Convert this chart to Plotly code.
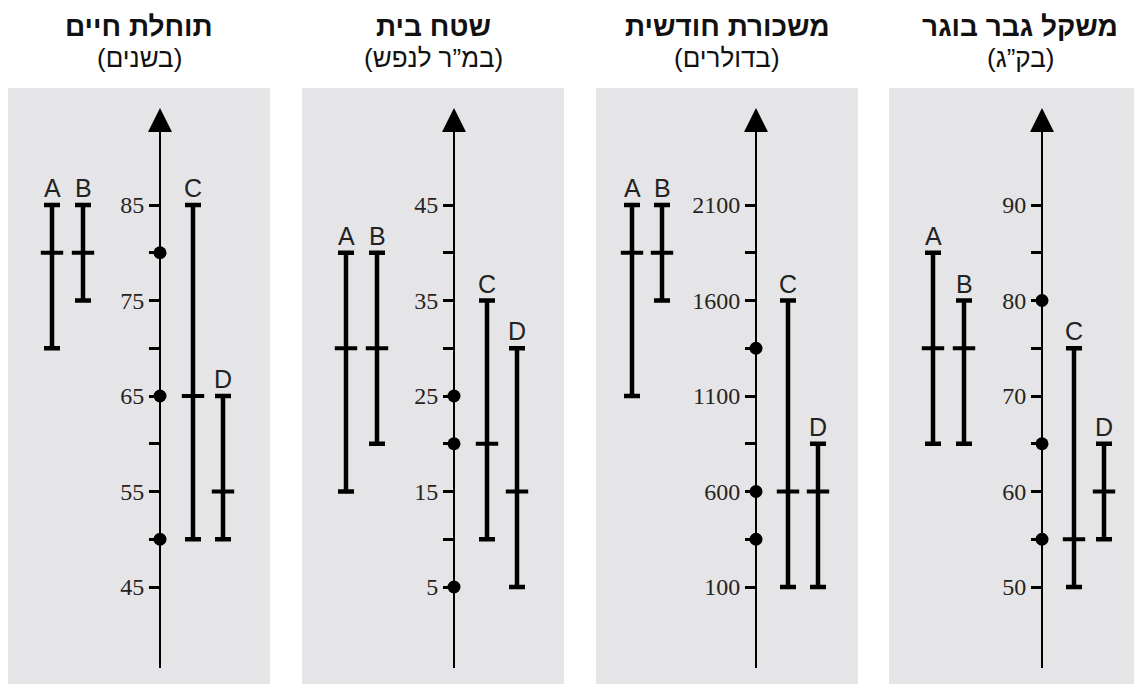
import plotly.graph_objects as go

# ---------------- data ----------------
GROUPS = ["A", "B", "C", "D"]
TITLES = ["תוחלת חיים", "שטח בית", "משכורת חודשית", "משקל גבר בוגר"]
SUBTITLES = ["(בשנים)", "(במ”ר לנפש)", "(בדולרים)", "(בק”ג)"]

LIFE_LOW = [70, 75, 50, 50]
LIFE_MID = [80, 80, 65, 55]
LIFE_HIGH = [85, 85, 85, 65]
LIFE_DOTS = [80, 65, 50]
LIFE_TICKS = [45, 55, 65, 75, 85]

HOUSE_LOW = [15, 20, 10, 5]
HOUSE_MID = [30, 30, 20, 15]
HOUSE_HIGH = [40, 40, 35, 30]
HOUSE_DOTS = [25, 20, 5]
HOUSE_TICKS = [5, 15, 25, 35, 45]

SALARY_LOW = [1100, 1600, 100, 100]
SALARY_MID = [1850, 1850, 600, 600]
SALARY_HIGH = [2100, 2100, 1600, 850]
SALARY_DOTS = [1350, 600, 350]
SALARY_TICKS = [100, 600, 1100, 1600, 2100]

WEIGHT_LOW = [65, 65, 50, 55]
WEIGHT_MID = [75, 75, 55, 60]
WEIGHT_HIGH = [85, 80, 75, 65]
WEIGHT_DOTS = [80, 65, 55]
WEIGHT_TICKS = [50, 60, 70, 80, 90]

PANELS = [
    (LIFE_LOW, LIFE_MID, LIFE_HIGH, LIFE_DOTS, LIFE_TICKS),
    (HOUSE_LOW, HOUSE_MID, HOUSE_HIGH, HOUSE_DOTS, HOUSE_TICKS),
    (SALARY_LOW, SALARY_MID, SALARY_HIGH, SALARY_DOTS, SALARY_TICKS),
    (WEIGHT_LOW, WEIGHT_MID, WEIGHT_HIGH, WEIGHT_DOTS, WEIGHT_TICKS),
]

# ---------------- layout constants (pixels, figure coordinates) ----------------
W, H = 1134, 676
PANEL_LEFT = [0, 294, 588, 881]
PANEL_W = 262
PANEL_TOP = 80
AXIS_PX = [152, 446, 748, 1034]
BAR_OFFSETS = [[-108, -77, 33, 63], [-108, -77, 33, 63],
               [-124, -94, 32, 62], [-109, -78, 32, 62]]
TOP_TICK_PX = 197
PX_PER_STEP = 95.5
ARROW_TIP_PX = 100
ARROW_BASE_PX = 116
AXIS_BOTTOM_PX = 660
TITLE_Y_PX = 19
SUB_Y_PX = 50

fig = go.Figure()
annotations = []
layout_axes = {}

for i, (low, mid, high, dots, ticks) in enumerate(PANELS):
    n = "" if i == 0 else str(i + 1)
    xr, yr = "x" + n, "y" + n
    step = ticks[1] - ticks[0]
    top = ticks[-1]

    def val(p, top=top, step=step):
        return top + (TOP_TICK_PX - p) * step / PX_PER_STEP

    left = PANEL_LEFT[i]
    right = min(left + PANEL_W, W)
    ax_px = AXIS_PX[i]
    offs = BAR_OFFSETS[i]

    tickvals = []
    ticktext = []
    for k, t in enumerate(ticks):
        tickvals.append(t)
        ticktext.append(str(t))
        if k < len(ticks) - 1:
            tickvals.append(t + step / 2)
            ticktext.append("")

    layout_axes["xaxis" + n] = dict(
        domain=[left / W, right / W], range=[left - ax_px, right - ax_px],
        visible=False, fixedrange=True)
    layout_axes["yaxis" + n] = dict(
        domain=[0, (H - PANEL_TOP) / H], range=[val(H), val(PANEL_TOP)],
        anchor="free", position=ax_px / W, side="left",
        showgrid=False, zeroline=False, showline=False,
        ticks="outside", ticklen=11, tickwidth=2.5, tickcolor="black",
        tickvals=tickvals, ticktext=ticktext,
        tickfont=dict(family="Liberation Serif", size=24, color="#262322"),
        fixedrange=True)

    # axis line
    fig.add_trace(go.Scatter(
        x=[0, 0], y=[val(AXIS_BOTTOM_PX), val(ARROW_BASE_PX)],
        xaxis=xr, yaxis=yr, mode="lines",
        line=dict(color="black", width=2), showlegend=False, hoverinfo="skip"))
    # arrow head
    fig.add_trace(go.Scatter(
        x=[0], y=[val(ARROW_TIP_PX)], xaxis=xr, yaxis=yr, mode="markers",
        marker=dict(symbol="arrow-up", size=24, color="black"),
        showlegend=False, hoverinfo="skip"))

    # range bars
    fig.add_trace(go.Scatter(
        x=offs, y=mid, xaxis=xr, yaxis=yr, mode="markers",
        marker=dict(symbol="line-ew", size=16, color="black",
                    line=dict(width=4, color="black")),
        error_y=dict(type="data", symmetric=False,
                     array=[h - m for h, m in zip(high, mid)],
                     arrayminus=[m - l for m, l in zip(mid, low)],
                     thickness=4.5, width=8, color="black"),
        showlegend=False, hoverinfo="skip"))
    # dots on the axis
    fig.add_trace(go.Scatter(
        x=[0] * len(dots), y=dots, xaxis=xr, yaxis=yr, mode="markers",
        marker=dict(size=13, color="black"), showlegend=False, hoverinfo="skip"))

    # group letters
    for g, xo, h in zip(GROUPS, offs, high):
        annotations.append(dict(
            x=xo, y=h, xref=xr, yref=yr, text=g, showarrow=False,
            yanchor="bottom", yshift=1,
            font=dict(family="Liberation Sans", size=25, color="#222222")))

    # titles
    cx = (left + left + PANEL_W) / 2 / W
    annotations.append(dict(
        x=cx, y=1 - TITLE_Y_PX / H, xref="paper", yref="paper",
        text="<b>" + TITLES[i] + "</b>", showarrow=False,
        xanchor="center", yanchor="middle",
        font=dict(family="Liberation Sans", size=28, color="#111111")))
    annotations.append(dict(
        x=cx, y=1 - SUB_Y_PX / H, xref="paper", yref="paper",
        text=SUBTITLES[i], showarrow=False,
        xanchor="center", yanchor="middle",
        font=dict(family="Liberation Sans", size=26, color="#111111")))

fig.update_layout(
    width=W, height=H,
    margin=dict(l=0, r=0, t=0, b=0),
    paper_bgcolor="white", plot_bgcolor="#e5e5e7",
    annotations=annotations,
    showlegend=False,
    **layout_axes)

fig.write_html("out.html", config={"displayModeBar": False})
